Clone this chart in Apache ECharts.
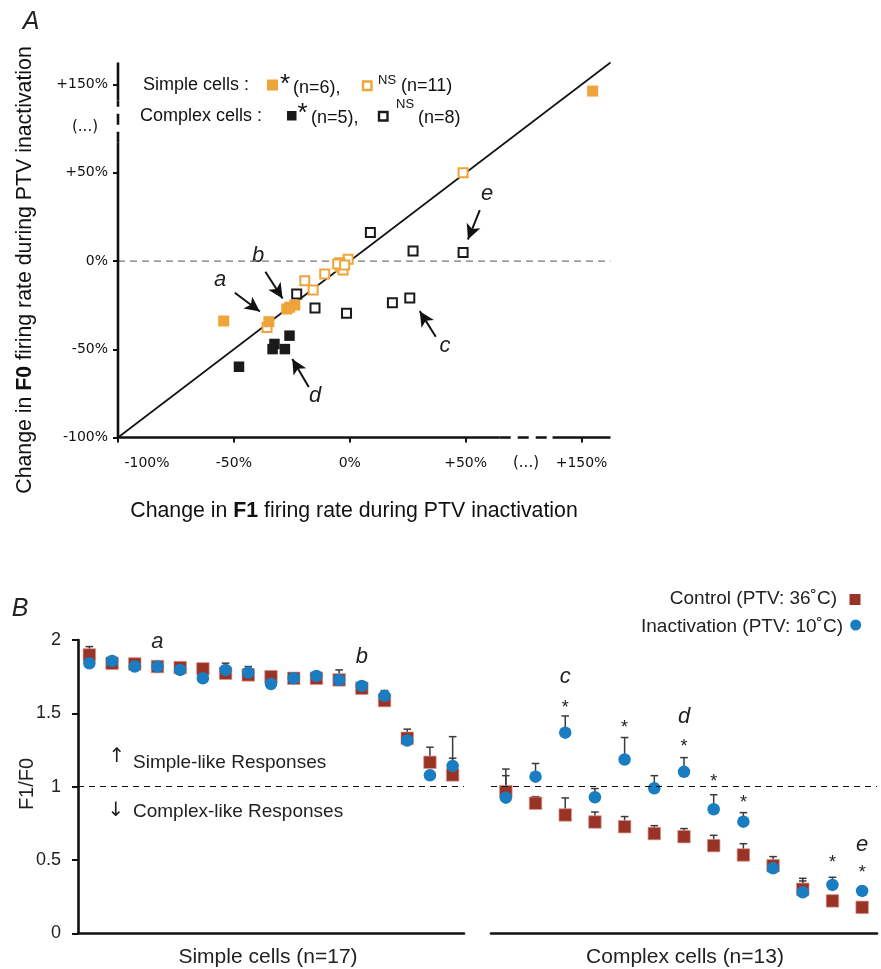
<!DOCTYPE html>
<html><head><meta charset="utf-8">
<script src="https://cdn.jsdelivr.net/npm/echarts@6/dist/echarts.min.js"></script>
<style>html,body{margin:0;padding:0;background:#fff}#c{width:881px;height:969px}</style>
</head><body><div id="c"></div><script>
// ---------- Panel A data: [change in F1 (%), change in F0 (%)] ----------
const simpleSig  = [[-54.4,-34.0],[-34.9,-34.4],[-27.2,-27.2],[-25.9,-26.2],[-23.7,-24.9],[159.6,142.6]];
const simpleNS   = [[48.9,50.0],[-0.7,1.0],[-4.3,-1.0],[-4.0,-3.2],[-2.9,-5.1],[-5.2,-1.7],[-2.2,-2.3],[-10.8,-7.4],[-19.4,-11.2],[-15.8,-16.4],[-35.7,-37.6]];
const complexSig = [[-47.8,-59.9],[-33.3,-49.9],[-32.5,-47.0],[-28.0,-49.9],[-26.0,-42.3]];
const complexNS  = [[8.9,16.1],[27.3,5.7],[48.9,4.9],[-22.9,-18.7],[-15.0,-26.6],[-1.4,-29.6],[18.4,-23.6],[25.9,-21.0]];
const tickValuesA = [-100,-50,0,50,150];
const tickLabelsA = ['-100%','-50%','0%','+50%','+150%'];

// ---------- Panel B data: F1/F0 ----------
const simpleCells  = ['S1','S2','S3','S4','S5','S6','S7','S8','S9','S10','S11','S12','S13','S14','S15','S16','S17'];
const simpleControl = [1.898,1.841,1.837,1.819,1.812,1.803,1.773,1.762,1.750,1.739,1.739,1.728,1.671,1.587,1.330,1.166,1.080];
const simpleInact   = [1.841,1.857,1.819,1.819,1.796,1.739,1.796,1.778,1.700,1.739,1.755,1.728,1.687,1.619,1.314,1.078,1.141];
const simpleControlErr = [1.955,null,null,null,null,null,null,null,null,null,null,null,null,null,1.392,1.269,1.194];
const simpleInactErr   = [null,null,null,null,null,null,1.842,1.819,null,null,null,1.796,null,1.655,null,null,1.341];

const complexCells  = ['C1','C2','C3','C4','C5','C6','C7','C8','C9','C10','C11','C12','C13'];
const complexControl = [0.966,0.887,0.807,0.759,0.727,0.680,0.659,0.598,0.534,0.461,0.300,0.221,0.177];
const complexInact   = [0.925,1.068,1.368,0.928,1.185,0.989,1.101,0.846,0.761,0.443,0.280,0.330,0.289];
const complexControlErr = [1.075,0.932,0.923,0.827,0.796,0.734,0.714,0.668,0.611,0.523,0.357,0.257,null];
const complexInactErr   = [1.120,1.158,1.482,0.987,1.335,1.075,1.198,0.945,0.823,null,0.375,0.382,null];
const complexStars = [[2,1.569],[4,1.432],[6,1.307],[7,1.064],[8,0.921],[11,0.512],[12,0.443]];
const tickLabelsB = ['0','0.5','1','1.5','2'];

// ---------- helpers ----------
const F = "'Liberation Sans', Arial, Helvetica, sans-serif";
const FD = "'DejaVu Sans', Verdana, sans-serif";
const ORANGE = '#EEA438', BLACK = '#1a1a1a', RED = '#993325', BLUE = '#1A7DC1';
const brk = v => v <= 50 ? v : 50 + (v - 50) / 2;       // axis break: 50..150 compressed
const tf = arr => arr.map(p => [brk(p[0]), brk(p[1])]);
const A_MAX = 112.5;
const brkX = [64.7, 87.5], brkY = [67, 91];

function labelA(v){
  const i = tickValuesA.findIndex(t => Math.abs(brk(t) - v) < 1e-6);
  return i < 0 ? '' : tickLabelsA[i];
}
function errData(vals, errs){
  const out = [];
  vals.forEach((v,i) => { if (errs[i] != null) out.push([i, v, errs[i]]); });
  return out;
}
function errRender(params, api){
  const p0 = api.coord([api.value(0), api.value(1)]);
  const p1 = api.coord([api.value(0), api.value(2)]);
  const w = 3.8;
  const st = {stroke:'#3a3a3a', lineWidth:1.5};
  return {type:'group', children:[
    {type:'line', shape:{x1:p0[0],y1:p0[1],x2:p1[0],y2:p1[1]}, style:st},
    {type:'line', shape:{x1:p1[0]-w,y1:p1[1],x2:p1[0]+w,y2:p1[1]}, style:st}
  ]};
}
function seg(data, dashed){
  return {type:'line', xAxisIndex:0, yAxisIndex:0, data, symbol:'none', clip:false, silent:true, z:3,
    lineStyle:{color:'#111', width:2.6, type: dashed ? [11,7] : 'solid'}, animation:false};
}
const letterStyle = {fontFamily:F, fontStyle:'italic', fontSize:22, color:'#222'};

const chart = echarts.init(document.getElementById('c'));
const option = {
  animation:false,
  backgroundColor:'#fff',
  grid:[
    {left:118, top:62.5, width:492.5, height:375},
    {left:78, top:640, width:386, height:293.3},
    {left:491, top:640, width:386, height:293.3}
  ],
  xAxis:[
    {gridIndex:0, type:'value', min:-100, max:A_MAX, position:'bottom', axisLine:{show:false, onZero:false}, splitLine:{show:false},
     axisTick:{show:true, customValues:tickValuesA.map(brk), length:5, lineStyle:{color:'#111', width:2}},
     axisLabel:{customValues:tickValuesA.map(brk), margin:19, fontFamily:FD, fontSize:14, color:'#111',
       formatter:v => { const s = labelA(v); return v === -100 ? '{m|' + s + '}' : s; },
       rich:{m:{padding:[0,0,0,58], fontFamily:FD, fontSize:14, color:'#111'}}}},
    {gridIndex:1, type:'category', data:simpleCells, boundaryGap:true,
     axisLine:{onZero:false, lineStyle:{color:'#111', width:2.6}},
     axisTick:{interval:0, length:4, lineStyle:{color:'#111', width:1.8}}, axisLabel:{show:false}},
    {gridIndex:2, type:'category', data:complexCells, boundaryGap:true,
     axisLine:{onZero:false, lineStyle:{color:'#111', width:2.6}},
     axisTick:{interval:0, length:4, lineStyle:{color:'#111', width:1.8}}, axisLabel:{show:false}}
  ],
  yAxis:[
    {gridIndex:0, type:'value', min:-100, max:A_MAX, position:'left', axisLine:{show:false, onZero:false}, splitLine:{show:false},
     axisTick:{show:true, customValues:tickValuesA.map(brk), length:5, lineStyle:{color:'#111', width:2}},
     axisLabel:{customValues:tickValuesA.map(brk), margin:10, fontFamily:FD, fontSize:14, color:'#111',
       formatter:v => labelA(v)}},
    {gridIndex:1, type:'value', min:0, max:2, interval:0.5, splitLine:{show:false},
     axisLine:{show:true, onZero:false, lineStyle:{color:'#111', width:2.6}},
     axisTick:{show:true, length:6, lineStyle:{color:'#111', width:2}},
     axisLabel:{margin:17, fontFamily:F, fontSize:18, color:'#222', formatter:v => tickLabelsB[Math.round(v*2)]}},
    {gridIndex:2, type:'value', min:0, max:2, interval:0.5, show:false}
  ],
  series:[
    // diagonal identity line
    {type:'line', xAxisIndex:0, yAxisIndex:0, data:[[-100,-100],[A_MAX,A_MAX]], symbol:'none', clip:false, silent:true,
     lineStyle:{color:'#111', width:1.6}, z:2},
    // zero line + annotation arrows
    {type:'line', xAxisIndex:0, yAxisIndex:0, data:[[-100,0],[A_MAX,0]], symbol:'none', silent:true,
     lineStyle:{color:'#777', width:1.2, type:[7,5]}, z:1,
     markLine:{silent:true, symbolSize:[11,15], label:{show:false}, lineStyle:{color:'#111', width:2, type:'solid'},
       data:[
         [{coord:[-49.6,-18.0], symbol:'none'},{coord:[-38.8,-28.6], symbol:'arrow'}],
         [{coord:[-36.4,-6.1], symbol:'none'},{coord:[-29.0,-21.2], symbol:'arrow'}],
         [{coord:[37.1,-42.9], symbol:'none'},{coord:[30.2,-28.4], symbol:'arrow'}],
         [{coord:[-17.7,-71.4], symbol:'none'},{coord:[-24.8,-55.5], symbol:'arrow'}],
         [{coord:[56.1,28.9], symbol:'none'},{coord:[51.0,12.2], symbol:'arrow'}]
       ]}},
    // axis lines with breaks
    seg([[-100,-100],[brkX[0],-100]]), seg([[brkX[0],-100],[brkX[1],-100]], true), seg([[brkX[1],-100],[A_MAX,-100]]),
    seg([[-100,-100],[-100,brkY[0]]]), seg([[-100,brkY[0]],[-100,brkY[1]]], true), seg([[-100,brkY[1]],[-100,A_MAX]]),
    // scatter groups
    {type:'scatter', xAxisIndex:0, yAxisIndex:0, data:tf(complexNS), symbol:'rect', symbolSize:9,
     itemStyle:{color:'#fff', borderColor:BLACK, borderWidth:2, opacity:1}, z:4},
    {type:'scatter', xAxisIndex:0, yAxisIndex:0, data:tf(simpleNS), symbol:'rect', symbolSize:9,
     itemStyle:{color:'#fff', borderColor:ORANGE, borderWidth:2, opacity:1}, z:4},
    {type:'scatter', xAxisIndex:0, yAxisIndex:0, data:tf(complexSig), symbol:'rect', symbolSize:10.5,
     itemStyle:{color:BLACK, opacity:1}, z:5},
    {type:'scatter', xAxisIndex:0, yAxisIndex:0, data:tf(simpleSig), symbol:'rect', symbolSize:11,
     itemStyle:{color:ORANGE, opacity:1}, z:5},

    // ---------- Panel B left ----------
    {type:'line', xAxisIndex:1, yAxisIndex:1, data:[], symbol:'none', silent:true,
     markLine:{silent:true, symbol:'none', label:{show:false}, lineStyle:{color:'#111', width:1.2, type:[6,5]}, data:[{yAxis:1}]}},
    {type:'custom', xAxisIndex:1, yAxisIndex:1, renderItem:errRender, data:errData(simpleControl, simpleControlErr), encode:{x:0, y:[1,2]}, z:2, silent:true},
    {type:'custom', xAxisIndex:1, yAxisIndex:1, renderItem:errRender, data:errData(simpleInact, simpleInactErr), encode:{x:0, y:[1,2]}, z:2, silent:true},
    {type:'scatter', xAxisIndex:1, yAxisIndex:1, data:simpleControl, symbol:'rect', symbolSize:12.5,
     itemStyle:{color:RED, borderColor:'rgba(220,150,140,0.7)', borderWidth:1, opacity:1}, z:3},
    {type:'scatter', xAxisIndex:1, yAxisIndex:1, data:simpleInact, symbol:'circle', symbolSize:12.5,
     itemStyle:{color:BLUE, opacity:1}, z:4,
     markPoint:{silent:true, symbol:'circle', symbolSize:1, itemStyle:{color:'rgba(0,0,0,0)'},
       label:{show:true, position:'inside', formatter:p => p.name, ...letterStyle},
       data:[{name:'a', coord:[simpleCells[3],1.989]},{name:'b', coord:[simpleCells[12],1.883]}]}},

    // ---------- Panel B right ----------
    {type:'line', xAxisIndex:2, yAxisIndex:2, data:[], symbol:'none', silent:true,
     markLine:{silent:true, symbol:'none', label:{show:false}, lineStyle:{color:'#111', width:1.2, type:[6,5]}, data:[{yAxis:1}]}},
    {type:'custom', xAxisIndex:2, yAxisIndex:2, renderItem:errRender, data:errData(complexControl, complexControlErr), encode:{x:0, y:[1,2]}, z:2, silent:true},
    {type:'custom', xAxisIndex:2, yAxisIndex:2, renderItem:errRender, data:errData(complexInact, complexInactErr), encode:{x:0, y:[1,2]}, z:2, silent:true},
    {type:'scatter', xAxisIndex:2, yAxisIndex:2, data:complexControl, symbol:'rect', symbolSize:12.5,
     itemStyle:{color:RED, borderColor:'rgba(220,150,140,0.7)', borderWidth:1, opacity:1}, z:3},
    {type:'scatter', xAxisIndex:2, yAxisIndex:2, data:complexInact, symbol:'circle', symbolSize:12.5,
     itemStyle:{color:BLUE, opacity:1}, z:4,
     markPoint:{silent:true, symbol:'circle', symbolSize:1, itemStyle:{color:'rgba(0,0,0,0)'},
       label:{show:true, position:'inside', formatter:p => p.name, ...letterStyle},
       data:[{name:'c', coord:[complexCells[2],1.746]},{name:'d', coord:[complexCells[6],1.478]},{name:'e', coord:[complexCells[12],0.602]}]
         .concat(complexStars.map(s => ({name:'*', coord:[complexCells[s[0]], s[1]],
           label:{fontStyle:'normal', fontSize:18, fontFamily:F, color:'#222', offset:[0,5]}})))}}
  ],
  graphic:[
    {type:'text', x:31, y:22, style:{text:'A', font:'italic 25px ' + F, fill:'#222', align:'center', verticalAlign:'middle'}},
    {type:'text', x:20, y:609, style:{text:'B', font:'italic 25px ' + F, fill:'#222', align:'center', verticalAlign:'middle'}},
    // Panel A axis titles
    {type:'text', x:354, y:511, style:{text:'Change in {b|F1} firing rate during PTV inactivation', fontSize:21.3, fontFamily:F, fill:'#111',
      align:'center', verticalAlign:'middle', rich:{b:{fontWeight:'bold', fontSize:21.3, fontFamily:F}}}},
    {type:'text', x:25, y:270, rotation:Math.PI/2, style:{text:'Change in {b|F0} firing rate during PTV inactivation', fontSize:21.3, fontFamily:F, fill:'#111',
      align:'center', verticalAlign:'middle', rich:{b:{fontWeight:'bold', fontSize:21.3, fontFamily:F}}}},
    {type:'text', x:85, y:127, style:{text:'(...)', font:'15px ' + FD, fill:'#111', align:'center', verticalAlign:'middle'}},
    {type:'text', x:526, y:463, style:{text:'(...)', font:'15px ' + FD, fill:'#111', align:'center', verticalAlign:'middle'}},
    // Panel A legend
    {type:'text', x:143, y:85, style:{text:'Simple cells :', font:'18px ' + F, fill:'#111', verticalAlign:'middle'}},
    {type:'rect', shape:{x:267, y:79.5, width:11, height:11}, style:{fill:ORANGE}},
    {type:'text', x:280, y:85, style:{text:'*', font:'26px ' + F, fill:'#111', verticalAlign:'middle'}},
    {type:'text', x:293, y:88, style:{text:'(n=6),', font:'18px ' + F, fill:'#111', verticalAlign:'middle'}},
    {type:'rect', shape:{x:363, y:81.5, width:8.5, height:8.5}, style:{fill:'#fff', stroke:ORANGE, lineWidth:2.4}},
    {type:'text', x:378, y:80, style:{text:'NS', font:'13px ' + F, fill:'#111', verticalAlign:'middle'}},
    {type:'text', x:401, y:86, style:{text:'(n=11)', font:'18px ' + F, fill:'#111', verticalAlign:'middle'}},
    {type:'text', x:140, y:116, style:{text:'Complex cells :', font:'18px ' + F, fill:'#111', verticalAlign:'middle'}},
    {type:'rect', shape:{x:287, y:111, width:9.5, height:9.5}, style:{fill:BLACK}},
    {type:'text', x:297.5, y:114, style:{text:'*', font:'26px ' + F, fill:'#111', verticalAlign:'middle'}},
    {type:'text', x:311, y:118, style:{text:'(n=5),', font:'18px ' + F, fill:'#111', verticalAlign:'middle'}},
    {type:'rect', shape:{x:379, y:112, width:8.5, height:8.5}, style:{fill:'#fff', stroke:BLACK, lineWidth:2.4}},
    {type:'text', x:396, y:104, style:{text:'NS', font:'13px ' + F, fill:'#111', verticalAlign:'middle'}},
    {type:'text', x:418, y:118, style:{text:'(n=8)', font:'18px ' + F, fill:'#111', verticalAlign:'middle'}},
    // Panel A annotation letters
    {type:'text', x:220, y:280, style:{text:'a', font:'italic 22px ' + F, fill:'#222', align:'center', verticalAlign:'middle'}},
    {type:'text', x:258, y:256, style:{text:'b', font:'italic 22px ' + F, fill:'#222', align:'center', verticalAlign:'middle'}},
    {type:'text', x:445, y:346, style:{text:'c', font:'italic 22px ' + F, fill:'#222', align:'center', verticalAlign:'middle'}},
    {type:'text', x:315, y:396, style:{text:'d', font:'italic 22px ' + F, fill:'#222', align:'center', verticalAlign:'middle'}},
    {type:'text', x:487, y:194, style:{text:'e', font:'italic 22px ' + F, fill:'#222', align:'center', verticalAlign:'middle'}},
    // Panel B texts
    {type:'text', x:27, y:784, rotation:Math.PI/2, style:{text:'F1/F0', font:'20px ' + F, fill:'#222', align:'center', verticalAlign:'middle'}},
    {type:'text', x:117, y:757, style:{text:'\u2191', font:'20px ' + FD, fill:'#222', align:'center', verticalAlign:'middle'}},
    {type:'text', x:133, y:763, style:{text:'Simple-like Responses', font:'19px ' + F, fill:'#222', verticalAlign:'middle'}},
    {type:'text', x:116, y:811, style:{text:'\u2193', font:'20px ' + FD, fill:'#222', align:'center', verticalAlign:'middle'}},
    {type:'text', x:133, y:812, style:{text:'Complex-like Responses', font:'19px ' + F, fill:'#222', verticalAlign:'middle'}},
    {type:'text', x:268, y:957, style:{text:'Simple cells (n=17)', font:'21px ' + F, fill:'#222', align:'center', verticalAlign:'middle'}},
    {type:'text', x:685, y:957, style:{text:'Complex cells (n=13)', font:'21px ' + F, fill:'#222', align:'center', verticalAlign:'middle'}},
    // Panel B legend
    {type:'text', x:837, y:599, style:{text:'Control (PTV: 36\u02DAC)', font:'19px ' + F, fill:'#222', align:'right', verticalAlign:'middle'}},
    {type:'rect', shape:{x:849.5, y:594, width:11, height:11}, style:{fill:RED}},
    {type:'text', x:843, y:626.5, style:{text:'Inactivation (PTV: 10\u02DAC)', font:'19px ' + F, fill:'#222', align:'right', verticalAlign:'middle'}},
    {type:'circle', shape:{cx:855.7, cy:625, r:5.5}, style:{fill:BLUE}}
  ]
};
chart.setOption(option);
</script></body></html>
